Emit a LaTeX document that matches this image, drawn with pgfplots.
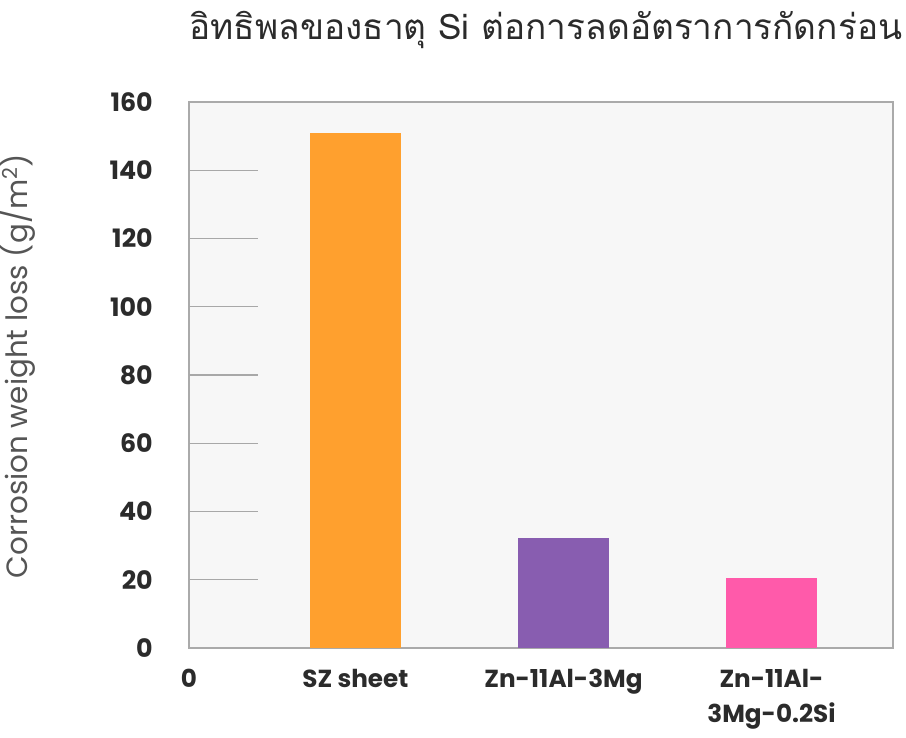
\documentclass[border=0pt]{standalone}
\usepackage{fontspec}
\setmainfont{Poppins}
\newfontfamily\thaifont[Script=Thai]{Loma}
\usepackage{pgfplots}
\pgfplotsset{compat=1.18}
\definecolor{barO}{HTML}{FFA02E}
\definecolor{barP}{HTML}{885DB0}
\definecolor{barK}{HTML}{FF5AAA}
\definecolor{bgc}{HTML}{F7F7F7}
\definecolor{axc}{HTML}{AAAAAA}
\definecolor{gridc}{HTML}{A8A8A8}
\definecolor{txt}{HTML}{2B2B2B}
\definecolor{txtl}{HTML}{555555}
\begin{document}
\begin{tikzpicture}
\begin{axis}[
  scale only axis, width=528pt, height=409.5pt,
  xmin=0.2, xmax=3.584, ymin=0, ymax=160,
  axis background/.style={fill=bgc},
  axis line style={draw=axc, line width=1.2pt},
  ytick={0,20,...,160},
  /pgf/number format/assume math mode=true,
  yticklabel style={font=\bfseries\fontsize{19}{19}\selectfont, text=txt, anchor=east, inner sep=0pt, xshift=-27pt},
  major tick length=0pt,
  xtick={0.2,1,2,3},
  xticklabels={0,SZ sheet,Zn-11Al-3Mg,{Zn-11Al-\\3Mg-0.2Si}},
  xticklabel style={font=\bfseries\fontsize{18.5}{26}\selectfont, text=txt, align=center, anchor=north, inner sep=0pt, yshift=-16pt},
  ybar, bar width=68.25pt,
  clip=false,
]
\pgfplotsinvokeforeach{20,40,...,140}{\draw[gridc, line width=1pt] (axis cs:0.2,#1) -- (axis cs:0.532,#1);}
\addplot[fill=barO, draw=none, bar shift=0pt] coordinates {(1,151)};
\addplot[fill=barP, draw=none, bar shift=0pt] coordinates {(2,32.3)};
\addplot[fill=barK, draw=none, bar shift=0pt] coordinates {(3,20.5)};
\node[rotate=90, inner sep=0pt, font=\fontsize{22}{22}\selectfont, text=txtl] at (rel axis cs:-0.2429,0.5165) {Corrosion weight loss (g/m\textsuperscript{2})};
\node[inner sep=0pt, font=\thaifont\fontsize{26.4}{26.4}\selectfont, text=txt] at (rel axis cs:0.507,1.132) {อิทธิพลของธาตุ Si ต่อการลดอัตราการกัดกร่อน};
\path (rel axis cs:-0.2685,-0.1648) rectangle (rel axis cs:1.0185,1.1868);
\end{axis}
\end{tikzpicture}
\end{document}
